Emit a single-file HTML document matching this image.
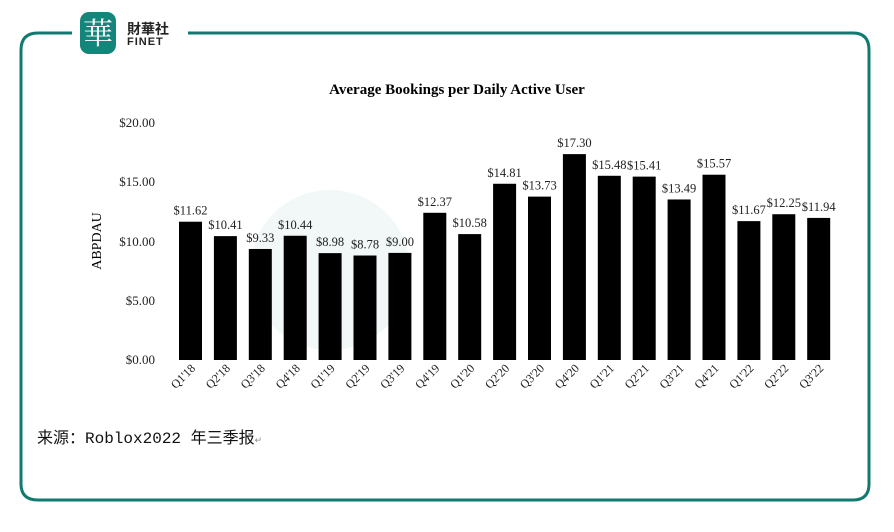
<!DOCTYPE html>
<html><head><meta charset="utf-8"><style>
body{margin:0;background:#fff;width:894px;height:527px;overflow:hidden}
</style></head><body>
<svg width="894" height="527" xmlns="http://www.w3.org/2000/svg" font-family="Liberation Serif, serif">
<path d="M72 33 H38 Q21 33 21 50 V484 Q21 500 38 500 H853 Q869 500 869 484 V50 Q869 33 853 33 H188" fill="none" stroke="#107a70" stroke-width="3"/>
<rect x="76" y="8" width="46" height="48" fill="#fff"/>
<rect x="80" y="12" width="36" height="42" rx="9" fill="#13857a"/>
<text x="98" y="44" text-anchor="middle" font-size="30" fill="#fff" font-family="Noto Serif CJK SC, serif">華</text>
<text x="127" y="34" font-size="14" font-weight="bold" fill="#222" font-family="Noto Sans CJK SC, sans-serif">財華社</text>
<text x="127" y="45" font-size="11" font-weight="bold" fill="#222" font-family="Liberation Sans, sans-serif" letter-spacing="1">FINET</text>
<circle cx="330" cy="270" r="80" fill="#e8f3f1" opacity="0.6"/>
<text x="457" y="94" text-anchor="middle" font-size="15" font-weight="bold" fill="#000">Average Bookings per Daily Active User</text>
<g font-size="13" fill="#222" text-anchor="end">
<text x="155" y="127">$20.00</text><text x="155" y="186">$15.00</text><text x="155" y="246">$10.00</text><text x="155" y="305">$5.00</text><text x="155" y="364">$0.00</text>
</g>
<text transform="translate(101,241) rotate(-90)" text-anchor="middle" font-size="14" fill="#000">ABPDAU</text>
<g id="bars"></g>
<text x="37" y="443" font-size="16" fill="#111" font-family="Liberation Mono, Noto Sans CJK SC, monospace">来源：Roblox2022 年三季报<tspan font-size="9" fill="#888">↵</tspan></text>
</svg>
<script>
var v=[11.62,10.41,9.33,10.44,8.98,8.78,9.00,12.37,10.58,14.81,13.73,17.30,15.48,15.41,13.49,15.57,11.67,12.25,11.94];
var q=["Q1'18","Q2'18","Q3'18","Q4'18","Q1'19","Q2'19","Q3'19","Q4'19","Q1'20","Q2'20","Q3'20","Q4'20","Q1'21","Q2'21","Q3'21","Q4'21","Q1'22","Q2'22","Q3'22"];
var g=document.getElementById('bars'),s='';
v.forEach(function(d,i){var x=179+i*34.9,h=d*11.9,y=360-h;
s+='<rect x="'+x+'" y="'+y+'" width="23" height="'+h+'" fill="#000"/>';
s+='<text x="'+(x+11.5)+'" y="'+(y-7)+'" text-anchor="middle" font-size="12.5" fill="#222">$'+d.toFixed(2)+'</text>';
s+='<text transform="translate('+(x+17)+',369) rotate(-45)" text-anchor="end" font-size="12" fill="#222">'+q[i]+'</text>';});
g.innerHTML=s;
</script>
</body></html>
